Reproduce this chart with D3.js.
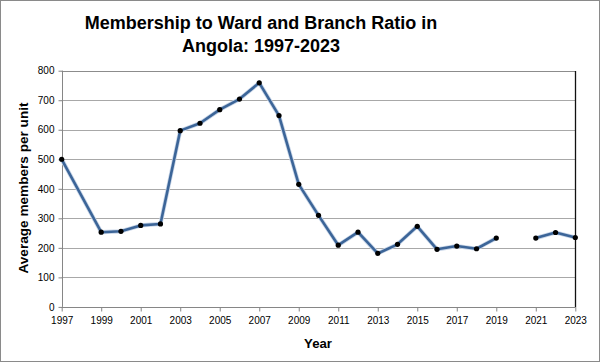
<!DOCTYPE html>
<html><head><meta charset="utf-8">
<script src="https://cdn.jsdelivr.net/npm/d3@7"></script>
<style>body{margin:0;background:#fff}svg{display:block}</style>
</head><body>
<svg id="c" width="600" height="362"></svg>
<script>
const years = [1997,1999,2000,2001,2002,2003,2004,2005,2006,2007,2008,2009,2010,2011,2012,2013,2014,2015,2016,2017,2018,2019,2020,2021,2022,2023];
const values = [500,253,256,276,281,597,622,668,704,759,648,415,310,209,253,181,212,273,195,206,197,233,null,233,252,235];
const xTicks = [1997,1999,2001,2003,2005,2007,2009,2011,2013,2015,2017,2019,2021,2023];
const yTicks = [0,100,200,300,400,500,600,700,800];
const titleLines = ["Membership to Ward and Branch Ratio in","Angola: 1997-2023"];

const svg = d3.select("#c");
const L=61.7, R=575.3, T=70.7, B=306.9;
const x = d3.scaleLinear().domain([1997,2023]).range([L,R]);
const y = d3.scaleLinear().domain([0,800]).range([B,T]);
const font = "'Liberation Sans', Arial, sans-serif";

svg.append("rect").attr("x",0.5).attr("y",0.5).attr("width",599).attr("height",361)
  .attr("fill","#fff").attr("stroke","#8a8a8a");

// gridlines
svg.append("g").selectAll("line").data(yTicks.filter(d=>d>0)).join("line")
  .attr("x1",L).attr("x2",R).attr("y1",d=>Math.round(y(d))+0.5).attr("y2",d=>Math.round(y(d))+0.5)
  .attr("stroke",d=>d===800?"#8c8c8c":"#a8a8a8").attr("stroke-width",1);

// right border
svg.append("line").attr("x1",Math.round(R)+0.5).attr("x2",Math.round(R)+0.5).attr("y1",Math.round(T)).attr("y2",B+0.5)
  .attr("stroke","#111").attr("stroke-width",1.3);

// axes
const yAxis = d3.axisLeft(y).tickValues(yTicks).tickSize(4).tickPadding(4);
const gy = svg.append("g").attr("transform",`translate(${Math.round(L)+0.5},0)`).call(yAxis);
const xAxis = d3.axisBottom(x).tickValues(xTicks).tickFormat(d3.format("d")).tickSize(4).tickPadding(5);
const gx = svg.append("g").attr("transform",`translate(0,${Math.round(B)+0.5})`).call(xAxis);
[gx,gy].forEach(g=>{
  g.select(".domain").attr("stroke","#868686");
  g.selectAll(".tick line").attr("stroke","#868686");
  g.selectAll("text").attr("font-family",font).attr("font-size","10px").attr("fill","#000");
});
gx.select(".domain").attr("d",`M${L},0H${R}`);
gy.select(".domain").attr("d",`M0,${T}V${B}`);

// line
const pts = years.map((yr,i)=>({yr,v:values[i]}));
const line = d3.line().defined(d=>d.v!=null).x(d=>x(d.yr)).y(d=>y(d.v));
svg.append("path").datum(pts).attr("d",line).attr("fill","none")
  .attr("stroke","#c9d6e8").attr("stroke-width",4.2).attr("stroke-linejoin","round");
svg.append("path").datum(pts).attr("d",line).attr("fill","none")
  .attr("stroke","#3c6598").attr("stroke-width",2.6).attr("stroke-linejoin","round");
svg.append("g").selectAll("circle").data(pts.filter(d=>d.v!=null)).join("circle")
  .attr("cx",d=>x(d.yr)).attr("cy",d=>y(d.v)).attr("r",2.6).attr("fill","#000");

// title
svg.append("text").attr("x",261).attr("y",28.5).attr("text-anchor","middle")
  .attr("font-family",font).attr("font-weight","bold").attr("font-size","18px").text(titleLines[0]);
svg.append("text").attr("x",261).attr("y",51.8).attr("text-anchor","middle")
  .attr("font-family",font).attr("font-weight","bold").attr("font-size","18px").text(titleLines[1]);

// axis titles
svg.append("text").attr("transform","translate(27.5,188) rotate(-90)").attr("text-anchor","middle")
  .attr("font-family",font).attr("font-weight","bold").attr("font-size","13.6px").text("Average members per unit");
svg.append("text").attr("x",318).attr("y",347.5).attr("text-anchor","middle")
  .attr("font-family",font).attr("font-weight","bold").attr("font-size","13.2px").text("Year");
</script>
</body></html>
